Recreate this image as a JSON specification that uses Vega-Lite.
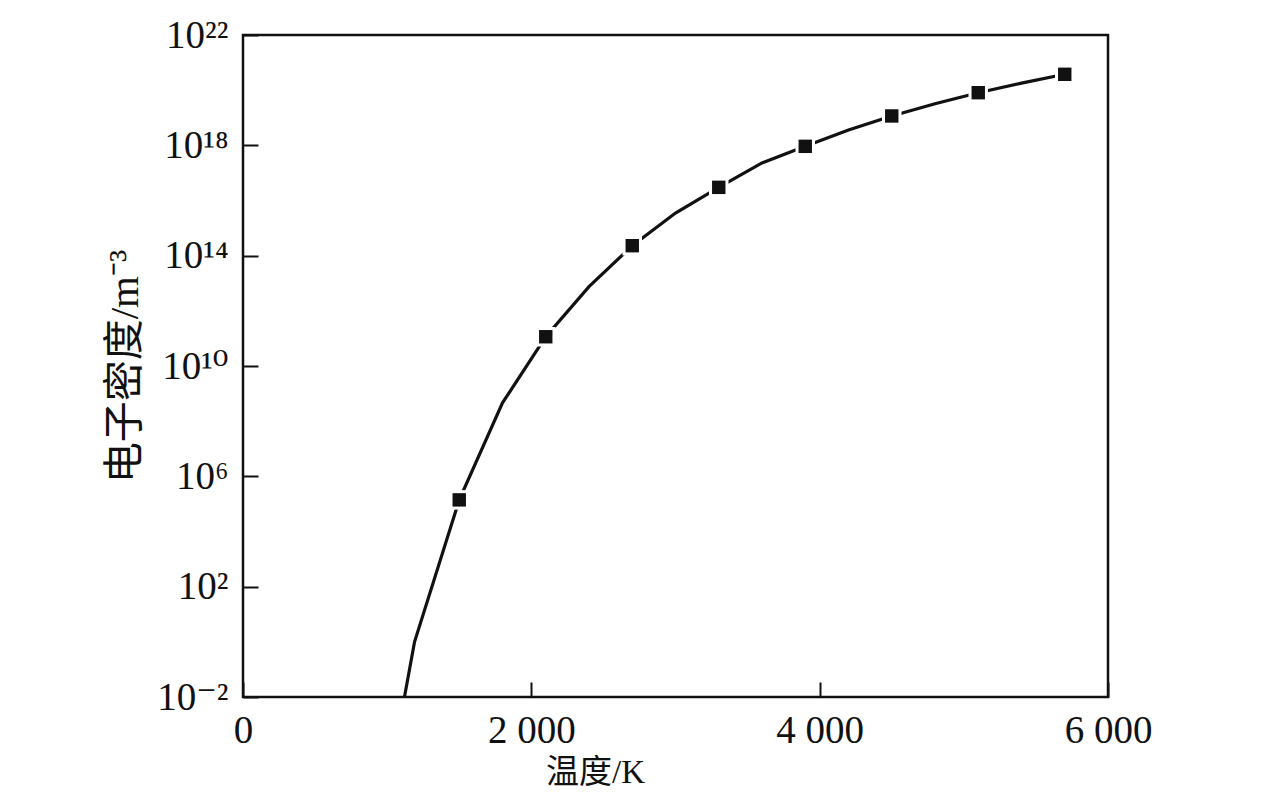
{
  "$schema": "https://vega.github.io/schema/vega-lite/v6.json",
  "width": 865,
  "height": 662,
  "autosize": {"type": "none"},
  "padding": {"left": 243, "top": 35, "right": 168, "bottom": 104},
  "background": "white",
  "config": {
    "view": {"stroke": "#111111", "strokeWidth": 2.5},
    "font": "Liberation Serif"
  },
  "data": {
    "values": [
      {"T": 1120, "n": 0.01, "marker": false},
      {"T": 1190, "n": 1, "marker": false},
      {"T": 1500, "n": 1.4e5, "marker": true},
      {"T": 1800, "n": 4.6e8, "marker": false},
      {"T": 2100, "n": 1.15e11, "marker": true},
      {"T": 2400, "n": 7.5e12, "marker": false},
      {"T": 2700, "n": 2.3e14, "marker": true},
      {"T": 3000, "n": 3.5e15, "marker": false},
      {"T": 3300, "n": 3.0e16, "marker": true},
      {"T": 3600, "n": 2.3e17, "marker": false},
      {"T": 3900, "n": 9.2e17, "marker": true},
      {"T": 4200, "n": 3.6e18, "marker": false},
      {"T": 4500, "n": 1.16e19, "marker": true},
      {"T": 4800, "n": 3.2e19, "marker": false},
      {"T": 5100, "n": 8.1e19, "marker": true},
      {"T": 5400, "n": 1.8e20, "marker": false},
      {"T": 5700, "n": 3.76e20, "marker": true}
    ]
  },
  "encoding": {
    "x": {
      "field": "T",
      "type": "quantitative",
      "scale": {"domain": [0, 6000], "nice": false, "zero": false},
      "axis": {
        "values": [0, 2000, 4000, 6000],
        "labelExpr": "replace(format(datum.value, ','), ',', ' ')",
        "domain": false,
        "grid": false,
        "ticks": true,
        "tickSize": -15,
        "tickWidth": 2,
        "tickColor": "#111111",
        "labelFont": "Liberation Serif",
        "labelFontSize": 39,
        "labelColor": "#111111",
        "labelBaseline": "alphabetic",
        "labelPadding": 60,
        "labelFlush": false,
        "labelOverlap": false,
        "title": "温度/K",
        "titleFont": "Liberation Serif, Noto Sans CJK SC",
        "titleFontSize": 33,
        "titleFontWeight": "normal",
        "titleColor": "#111111",
        "titleX": 352,
        "titleY": 75,
        "titleAlign": "center",
        "titleBaseline": "middle"
      }
    },
    "y": {
      "field": "n",
      "type": "quantitative",
      "scale": {"type": "log", "domain": [0.01, 1e22], "nice": false},
      "axis": {
        "values": [0.01, 100, 1e6, 1e10, 1e14, 1e18, 1e22],
        "labelExpr": "datum.value < 1 ? '10⁻²' : datum.value < 1e3 ? '10²' : datum.value < 1e7 ? '10⁶' : datum.value < 1e11 ? '10¹⁰' : datum.value < 1e15 ? '10¹⁴' : datum.value < 1e19 ? '10¹⁸' : '10²²'",
        "domain": false,
        "grid": false,
        "ticks": true,
        "tickSize": -15,
        "tickWidth": 2,
        "tickColor": "#111111",
        "labelFont": "Liberation Serif, DejaVu Serif",
        "labelFontSize": 39,
        "labelColor": "#111111",
        "labelBaseline": "middle",
        "labelPadding": 30,
        "labelFlush": false,
        "labelOverlap": false,
        "title": "电子密度/m⁻³",
        "titleFont": "Liberation Serif, Noto Sans CJK SC",
        "titleFontSize": 41,
        "titleFontWeight": "normal",
        "titleColor": "#111111",
        "titleAngle": -90,
        "titleX": -118,
        "titleY": 331,
        "titleAlign": "center",
        "titleBaseline": "middle"
      }
    }
  },
  "layer": [
    {
      "mark": {"type": "line", "color": "#111111", "strokeWidth": 3.2, "clip": true}
    },
    {
      "transform": [{"filter": "datum.marker"}],
      "mark": {"type": "point", "shape": "square", "filled": true, "color": "white", "opacity": 1, "size": 380}
    },
    {
      "transform": [{"filter": "datum.marker"}],
      "mark": {"type": "point", "shape": "square", "filled": true, "color": "#111111", "opacity": 1, "size": 180}
    }
  ]
}
